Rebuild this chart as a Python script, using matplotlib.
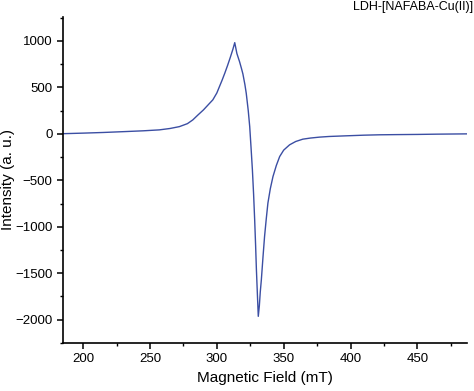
import matplotlib
matplotlib.use('Agg')
import matplotlib.pyplot as plt
from matplotlib.ticker import MultipleLocator

# EPR spectrum
field = [185, 200, 215, 232, 245, 257, 265, 272, 278, 282, 286, 290, 294, 297,
         300, 302, 304, 306, 308, 310, 312, 313.4, 315, 317, 318.5, 319.5,
         321, 322, 323.5, 324.6, 325.6, 326.6, 327.5, 328.3, 329, 329.6, 330.4,
         331, 331.8, 332.5, 333.3, 334.5, 335.7, 337, 338.2, 340, 342, 344.5,
         347, 350, 354.4, 359, 364.3, 370, 376.8, 384, 396.7, 410, 421.6, 434,
         450, 465, 487]
intensity = [2, 8, 15, 25, 33, 43, 58, 78, 110, 150, 205, 258, 320, 366,
             440, 510, 580, 655, 735, 820, 910, 982, 865, 777, 700, 645,
             530, 437, 250, 78, -150, -387, -650, -925, -1200, -1462, -1750,
             -1964, -1850, -1700, -1570, -1330, -1104, -910, -745, -590, -459,
             -340, -244, -175, -118, -82, -57, -45, -35, -28, -21, -14, -10,
             -8, -6, -3, 0]

label = 'LDH-[NAFABA-Cu(II)]'

plt.rcParams['font.family'] = ['Liberation Sans', 'DejaVu Sans']

fig = plt.figure(figsize=(4.74, 3.91), dpi=100)
ax = fig.add_axes([0.133, 0.123, 0.852, 0.834])

ax.plot(field, intensity, color='#3b4ea3', linewidth=1.0)

ax.set_xlim(185, 487)
ax.set_ylim(-2250, 1260)
ax.xaxis.set_major_locator(MultipleLocator(50))
ax.xaxis.set_minor_locator(MultipleLocator(25))
ax.yaxis.set_major_locator(MultipleLocator(500))
ax.yaxis.set_minor_locator(MultipleLocator(250))
ax.tick_params(which='major', direction='out', length=4, width=1.1, labelsize=9.5)
ax.tick_params(which='minor', direction='out', length=2.5, width=1.0)

for side in ['top', 'right']:
    ax.spines[side].set_visible(False)
for side in ['left', 'bottom']:
    ax.spines[side].set_linewidth(1.2)

ax.set_xlabel('Magnetic Field (mT)', fontsize=11)
ax.set_ylabel('Intensity (a. u.)', fontsize=11)
ax.yaxis.set_label_coords(-0.118, 0.5)

fig.text(0.745, 0.998, label, fontsize=9, ha='left', va='top')

fig.savefig('out.png', dpi=100)
